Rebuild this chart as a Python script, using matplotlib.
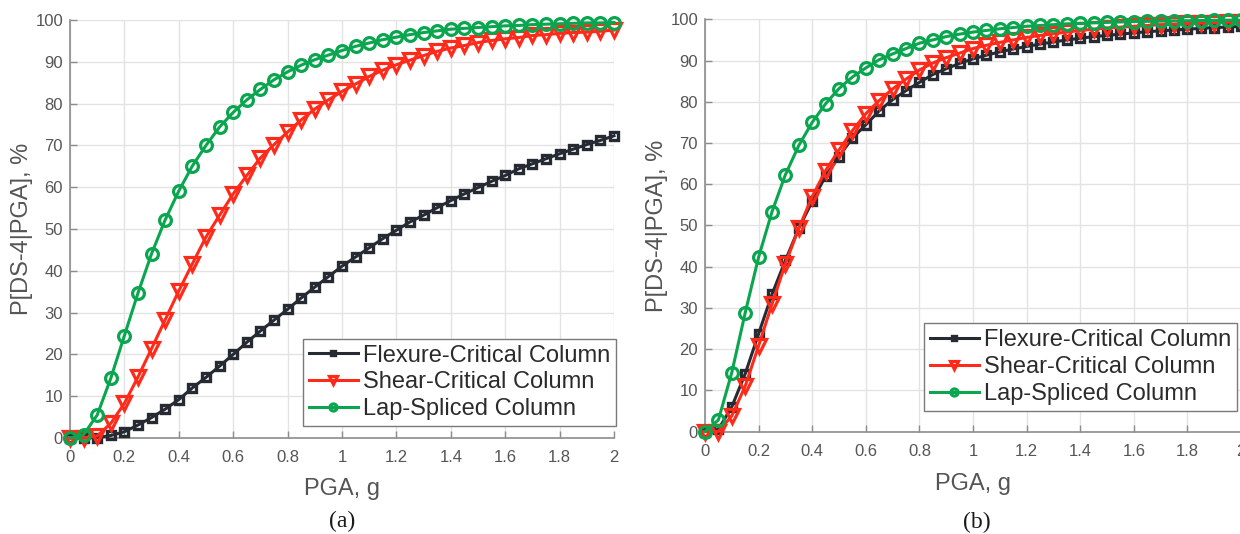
import matplotlib
matplotlib.use("Agg")
import matplotlib.pyplot as plt
import numpy as np

pga = [round(0.05 * i, 2) for i in range(41)]

# Panel (a)
flex_a = [0, 0, 0.1, 0.6, 1.5, 3.1, 4.9, 6.9, 9.2, 12.0, 14.5, 17.2, 20.0, 22.9, 25.6,
          28.2, 30.8, 33.5, 36.1, 38.6, 41.1, 43.3, 45.5, 47.7, 49.7, 51.7, 53.3, 55.1,
          56.8, 58.4, 59.9, 61.4, 62.8, 64.4, 65.6, 66.8, 68.0, 69.1, 70.2, 71.2, 72.3]
shear_a = [0, 0, 0.5, 3.5, 8.3, 14.6, 21.4, 28.3, 35.2, 41.7, 48.1, 53.3, 58.4, 62.8,
           67.0, 70.2, 73.2, 76.1, 78.7, 80.9, 82.9, 84.7, 86.5, 88.0, 89.3, 90.4, 91.5,
           92.5, 93.3, 93.9, 94.6, 95.1, 95.5, 95.8, 96.3, 96.5, 96.8, 97.0, 97.1, 97.3, 97.6]
lap_a = [0, 0.8, 5.5, 14.3, 24.5, 34.7, 44.1, 52.2, 59.1, 65.1, 70.0, 74.4, 77.9, 80.9,
         83.4, 85.7, 87.6, 89.2, 90.5, 91.6, 92.7, 93.7, 94.5, 95.3, 95.9, 96.5, 97.0,
         97.4, 97.8, 98.0, 98.2, 98.4, 98.6, 98.7, 98.9, 99.0, 99.1, 99.2, 99.3, 99.3, 99.4]

# Panel (b)
flex_b = [0, 0.5, 6.0, 14.0, 23.7, 33.3, 41.5, 49.3, 55.8, 62.0, 66.7, 71.2, 74.4, 77.8,
          80.5, 82.7, 84.7, 86.6, 88.0, 89.3, 90.4, 91.3, 92.1, 92.8, 93.4, 94.0, 94.5,
          95.0, 95.4, 95.8, 96.1, 96.4, 96.7, 97.0, 97.2, 97.4, 97.6, 97.8, 98.0, 98.1, 98.3]
shear_b = [0, 0, 3.8, 11.0, 20.8, 30.9, 40.7, 49.3, 57.0, 63.3, 68.3, 73.0, 77.1, 80.3,
           83.1, 85.5, 87.7, 89.4, 90.7, 91.8, 92.9, 93.7, 94.4, 95.0, 95.6, 96.1, 96.5,
           96.9, 97.3, 97.6, 97.9, 98.1, 98.3, 98.5, 98.7, 98.8, 99.0, 99.1, 99.2, 99.3, 99.4]
lap_b = [0, 2.8, 14.3, 28.8, 42.3, 53.3, 62.3, 69.4, 75.0, 79.5, 83.2, 86.0, 88.2, 90.2,
         91.6, 92.9, 94.2, 95.0, 95.8, 96.4, 96.9, 97.3, 97.7, 98.0, 98.3, 98.5, 98.7,
         98.9, 99.0, 99.15, 99.25, 99.35, 99.45, 99.5, 99.55, 99.6, 99.65, 99.7, 99.75,
         99.8, 99.8]

labels = ["Flexure-Critical Column", "Shear-Critical Column", "Lap-Spliced Column"]
xticks = [0, 0.2, 0.4, 0.6, 0.8, 1, 1.2, 1.4, 1.6, 1.8, 2]
xticklabels = ["0", "0.2", "0.4", "0.6", "0.8", "1", "1.2", "1.4", "1.6", "1.8", "2"]
yticks = list(range(0, 101, 10))

plt.rcParams['font.family'] = ['Liberation Sans', 'DejaVu Sans']

fig = plt.figure(figsize=(12.4, 5.34), dpi=100)

C_BLACK = "#262a33"
C_RED = "#ff2a1a"
C_GREEN = "#0aa64f"
AXCOL = "#8c8c8c"
TXT = "#555555"

axes_rects = [
    (70 / 1240, (534 - 438) / 534, 544 / 1240, 418 / 534),
    (705 / 1240, (534 - 431.5) / 534, 536 / 1240, 412.2 / 534),
]
data = [(flex_a, shear_a, lap_a), (flex_b, shear_b, lap_b)]
legend_anchor = [(616 / 1240, (534 - 426) / 534), (1237 / 1240, (534 - 410.7) / 534)]
ylab_x = [-0.088, -0.0896]
xlab_y = [-0.122, -0.127]
captions = [("(a)", 342, 521), ("(b)", 977, 522)]

for k in range(2):
    ax = fig.add_axes(axes_rects[k])
    fl, sh, lp = data[k]
    ax.plot(pga, fl, color=C_BLACK, lw=2.2, marker='s', ms=6.0, mfc='none',
            mec=C_BLACK, mew=2.4, clip_on=False, zorder=3, label=labels[0])
    ax.plot(pga, sh, color=C_RED, lw=2.2, marker='v', ms=9.5, mfc='none',
            mec=C_RED, mew=2.3, clip_on=False, zorder=4, label=labels[1])
    ax.plot(pga, lp, color=C_GREEN, lw=2.2, marker='o', ms=8.5, mfc='none',
            mec=C_GREEN, mew=2.3, clip_on=False, zorder=5, label=labels[2])
    ax.set_xlim(0, 2)
    ax.set_ylim(0, 100)
    ax.set_xticks(xticks)
    ax.set_xticklabels(xticklabels)
    ax.set_yticks(yticks)
    ax.grid(True, color="#e3e3e3", lw=1.0, zorder=0)
    ax.set_axisbelow(True)
    for s in ['top', 'right']:
        ax.spines[s].set_visible(False)
    for s in ['left', 'bottom']:
        ax.spines[s].set_color(AXCOL)
        ax.spines[s].set_linewidth(1.2)
    ax.tick_params(direction='in', length=5, width=1, color=AXCOL,
                   labelsize=12, labelcolor=TXT)
    ax.tick_params(axis='x', pad=9)
    ax.tick_params(axis='y', pad=5)
    ax.set_ylabel("P[DS-4|PGA], %", fontsize=17, color=TXT)
    ax.set_xlabel("PGA, g", fontsize=17, color=TXT)
    ax.yaxis.set_label_coords(ylab_x[k], 0.5)
    ax.yaxis.label.set_va('center')
    ax.xaxis.set_label_coords(0.5, xlab_y[k])
    ax.xaxis.label.set_va('center')

    leg = ax.legend(loc='lower right', bbox_to_anchor=legend_anchor[k],
                    bbox_transform=fig.transFigure, borderaxespad=0,
                    fontsize=17, fancybox=False, framealpha=1, edgecolor="#7a7a7a",
                    handlelength=2.1, handletextpad=0.2, borderpad=0.25,
                    labelspacing=0.2, markerscale=0.6)
    leg.get_frame().set_linewidth(1.0)
    for t in leg.get_texts():
        t.set_color("#2b2b2b")

    cap, cx, cy = captions[k]
    fig.text(cx / 1240, 1 - cy / 534, cap, ha='center', va='center', fontsize=17,
             family=['Liberation Serif', 'DejaVu Serif'], color="#1a1a1a")

fig.savefig("out.png", dpi=100)
